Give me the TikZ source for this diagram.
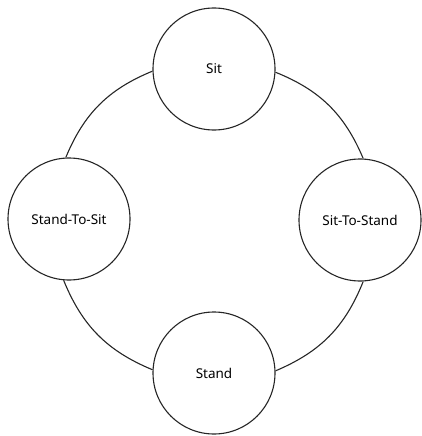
\documentclass[tikz,border=0pt]{standalone}
\usepackage{fontspec}
\setmainfont{Noto Sans}
\begin{document}
\begin{tikzpicture}[x=1pt,y=-1pt,
  state/.style={circle,draw=black!85,line width=1.1pt,fill=white,minimum size=122pt,inner sep=0pt,font=\fontsize{13.5}{15}\selectfont},
  link/.style={draw=black!85,line width=1.1pt,bend right=22.6}]
\useasboundingbox (0,0) rectangle (421,436);
\node[state] (sit) at (214,69) {Sit};
\node[state] (sts) at (69,219) {Stand-To-Sit};
\node[state] (s2s) at (360,220) {Sit-To-Stand};
\node[state] (stand) at (214,373) {Stand};
\draw[link] (sit.182.7) to (sts.93);
\draw[link] (sts.265.4) to (stand.177.3);
\draw[link] (stand.2.7) to (s2s.273.3);
\draw[link] (s2s.87.6) to (sit.357.3);
\end{tikzpicture}
\end{document}
